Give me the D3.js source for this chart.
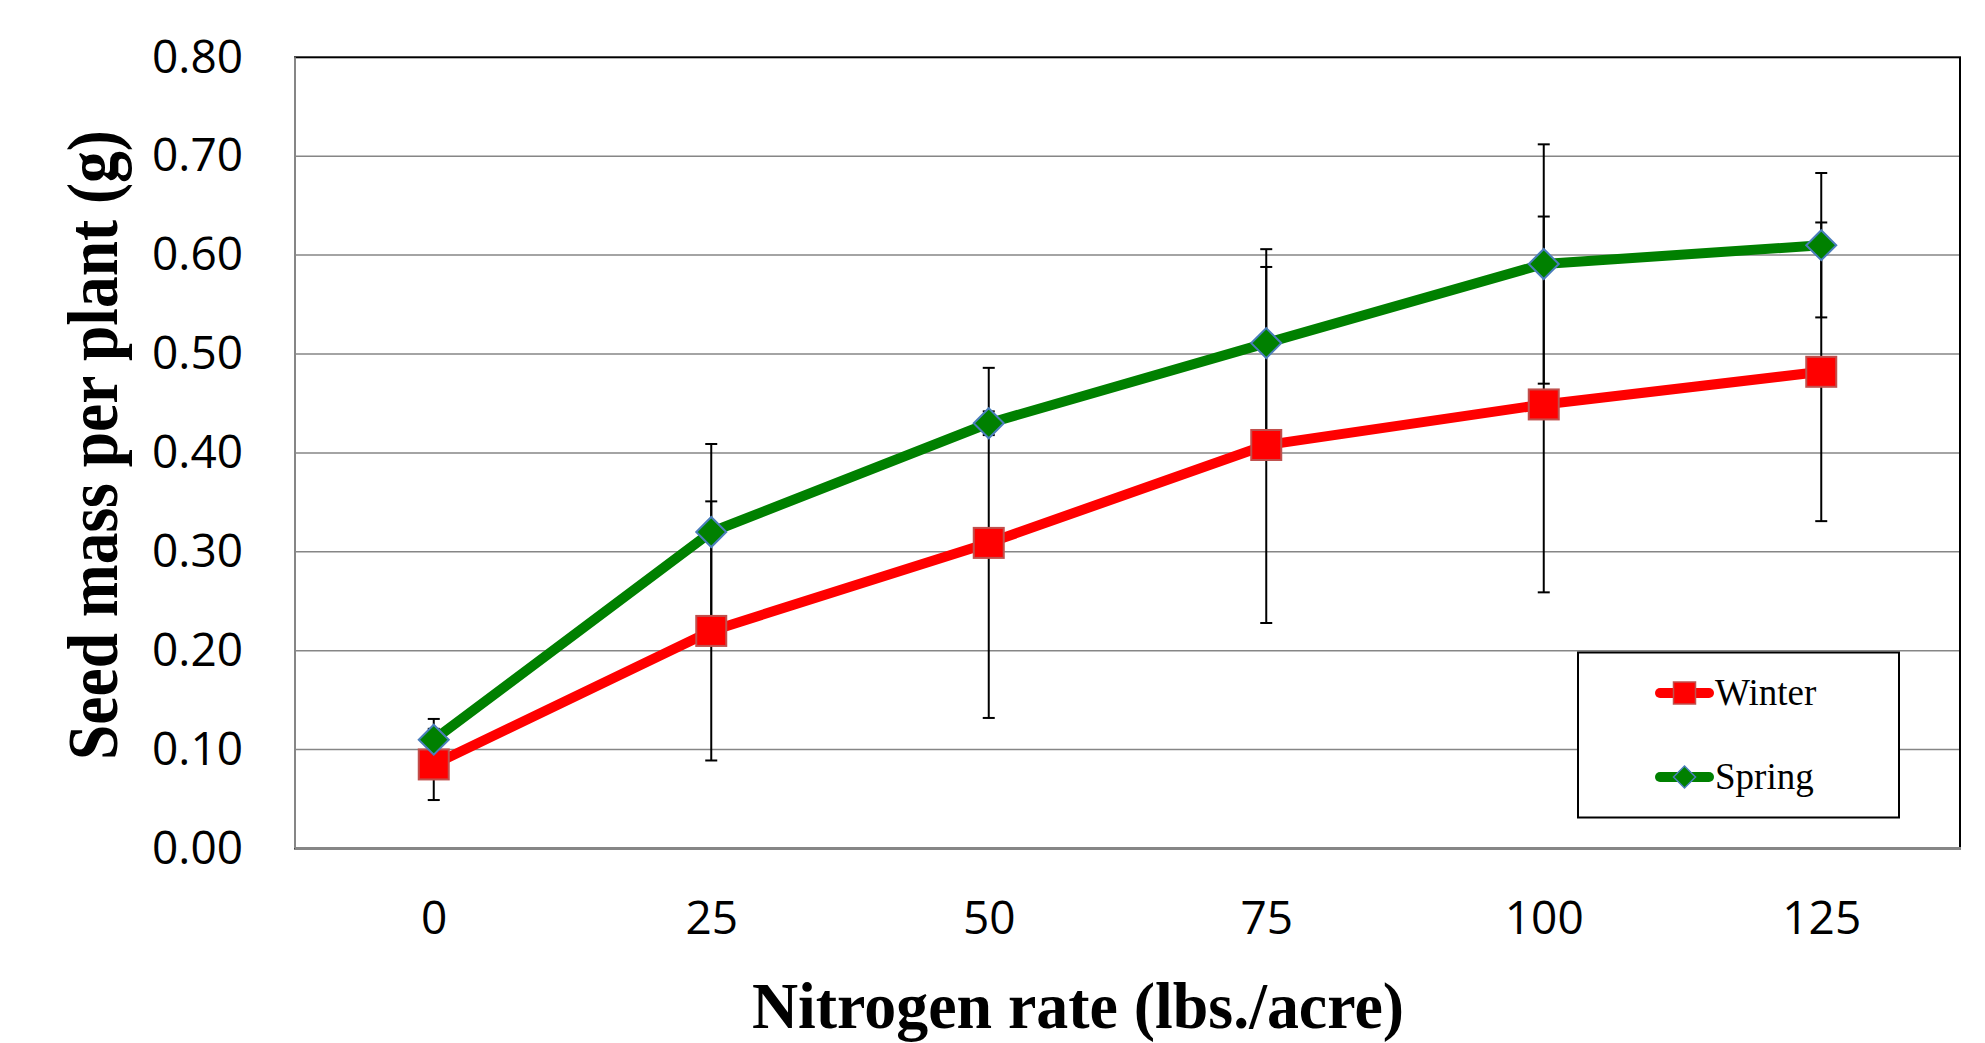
<!DOCTYPE html>
<html>
<head>
<meta charset="utf-8">
<script src="https://cdn.jsdelivr.net/npm/d3@7"></script>
<style>
  body { margin: 0; background: #fff; }
</style>
</head>
<body>
<script>
var rates = ["0", "25", "50", "75", "100", "125"]
var yTicks = [0, 0.1, 0.2, 0.3, 0.4, 0.5, 0.6, 0.7, 0.8]
var winter = [0.085, 0.22, 0.309, 0.408, 0.449, 0.482]
var winterErr = [0.036, 0.131, 0.177, 0.180, 0.190, 0.151]
var spring = [0.110, 0.320, 0.430, 0.511, 0.591, 0.610]
var springErr = [0.021, 0.089, 0.012, 0.095, 0.121, 0.073]

const width = 1985
const height = 1043
const plotLeft = 295, plotRight = 1960, plotTop = 57.3, plotBottom = 848.5

var svg = d3.select("body").append("svg").attr("width", width).attr("height", height)

var x = d3.scalePoint().domain(rates).range([plotLeft, plotRight]).padding(0.5)
var y = d3.scaleLinear().domain([0, 0.8]).range([plotBottom, plotTop])

// gridlines
svg.append("g").selectAll("line").data(yTicks.slice(1, -1)).enter().append("line")
    .attr("x1", plotLeft).attr("x2", plotRight)
    .attr("y1", (d) => y(d)).attr("y2", (d) => y(d))
    .attr("stroke", "#868686").attr("stroke-width", 1.5)

// plot border
svg.append("rect").attr("x", plotLeft).attr("y", plotTop)
    .attr("width", plotRight - plotLeft).attr("height", plotBottom - plotTop)
    .attr("fill", "none").attr("stroke", "#000").attr("stroke-width", 2)
svg.append("line").attr("x1", plotLeft).attr("x2", plotLeft).attr("y1", plotTop).attr("y2", plotBottom)
    .attr("stroke", "#868686").attr("stroke-width", 2)
svg.append("line").attr("x1", plotLeft).attr("x2", plotRight + 1).attr("y1", plotBottom).attr("y2", plotBottom)
    .attr("stroke", "#868686").attr("stroke-width", 3)

// axes
var yAxis = svg.append("g").attr("transform", "translate(" + plotLeft + ",0)")
    .call(d3.axisLeft(y).tickValues(yTicks).tickFormat(d3.format(".2f")).tickSize(0).tickPadding(52))
var xAxis = svg.append("g").attr("transform", "translate(0," + plotBottom + ")")
    .call(d3.axisBottom(x).tickSize(0).tickPadding(53))
svg.selectAll(".domain").remove()
svg.selectAll(".tick text").attr("font-family", "'Open Sans', sans-serif").attr("font-size", 46).attr("fill", "#000")

// titles
svg.append("text").attr("x", 1078).attr("y", 1028).attr("text-anchor", "middle")
    .attr("font-family", "'Liberation Serif', 'Times New Roman', serif").attr("font-weight", "bold")
    .attr("font-size", 66).attr("textLength", 652).attr("lengthAdjust", "spacingAndGlyphs")
    .text("Nitrogen rate (lbs./acre)")
svg.append("text").attr("transform", "translate(117,445) rotate(-90)").attr("text-anchor", "middle")
    .attr("font-family", "'Liberation Serif', 'Times New Roman', serif").attr("font-weight", "bold")
    .attr("font-size", 72).attr("textLength", 630).attr("lengthAdjust", "spacingAndGlyphs")
    .text("Seed mass per plant (g)")

// error bars
function errorBars(vals, errs) {
    var g = svg.append("g").attr("stroke", "#000").attr("stroke-width", 2)
    vals.forEach(function (v, i) {
        var cx = x(rates[i])
        g.append("line").attr("x1", cx).attr("x2", cx).attr("y1", y(v - errs[i])).attr("y2", y(v + errs[i]))
        g.append("line").attr("x1", cx - 6).attr("x2", cx + 6).attr("y1", y(v - errs[i])).attr("y2", y(v - errs[i]))
        g.append("line").attr("x1", cx - 6).attr("x2", cx + 6).attr("y1", y(v + errs[i])).attr("y2", y(v + errs[i]))
    })
}
errorBars(winter, winterErr)
errorBars(spring, springErr)

var line = d3.line().x((d, i) => x(rates[i])).y((d) => y(d))

svg.append("path").datum(winter).attr("fill", "none").attr("stroke", "#ff0000")
    .attr("stroke-width", 10).attr("stroke-linejoin", "round").attr("d", line)
svg.append("path").datum(spring).attr("fill", "none").attr("stroke", "#008000")
    .attr("stroke-width", 10).attr("stroke-linejoin", "round").attr("d", line)

// markers
svg.append("g").selectAll("rect").data(winter).enter().append("rect")
    .attr("x", (d, i) => x(rates[i]) - 15).attr("y", (d) => y(d) - 15)
    .attr("width", 30).attr("height", 30)
    .attr("fill", "#ff0000").attr("stroke", "#c0504d").attr("stroke-width", 2)
svg.append("g").selectAll("path").data(spring).enter().append("path")
    .attr("transform", (d, i) => "translate(" + x(rates[i]) + "," + y(d) + ")")
    .attr("d", "M0,-15L15,0L0,15L-15,0Z")
    .attr("fill", "#008000").attr("stroke", "#4a7ebb").attr("stroke-width", 2)

// legend
var legend = svg.append("g")
legend.append("rect").attr("x", 1578).attr("y", 652.5).attr("width", 321).attr("height", 165)
    .attr("fill", "#fff").attr("stroke", "#000").attr("stroke-width", 2)
var items = [
    { name: "Winter", color: "#ff0000", y: 693 },
    { name: "Spring", color: "#008000", y: 777 }
]
items.forEach(function (it, i) {
    legend.append("line").attr("x1", 1660).attr("x2", 1709).attr("y1", it.y).attr("y2", it.y)
        .attr("stroke", it.color).attr("stroke-width", 10).attr("stroke-linecap", "round")
    if (i == 0) {
        legend.append("rect").attr("x", 1673.5).attr("y", it.y - 11).attr("width", 22).attr("height", 22)
            .attr("fill", "#ff0000").attr("stroke", "#c0504d").attr("stroke-width", 1.5)
    } else {
        legend.append("path").attr("transform", "translate(1684.5," + it.y + ")")
            .attr("d", "M0,-11L11,0L0,11L-11,0Z")
            .attr("fill", "#008000").attr("stroke", "#4a7ebb").attr("stroke-width", 1.5)
    }
    legend.append("text").attr("x", 1715).attr("y", it.y + 12)
        .attr("font-family", "'Liberation Serif', 'Times New Roman', serif").attr("font-size", 37)
        .text(it.name)
})
</script>
</body>
</html>
